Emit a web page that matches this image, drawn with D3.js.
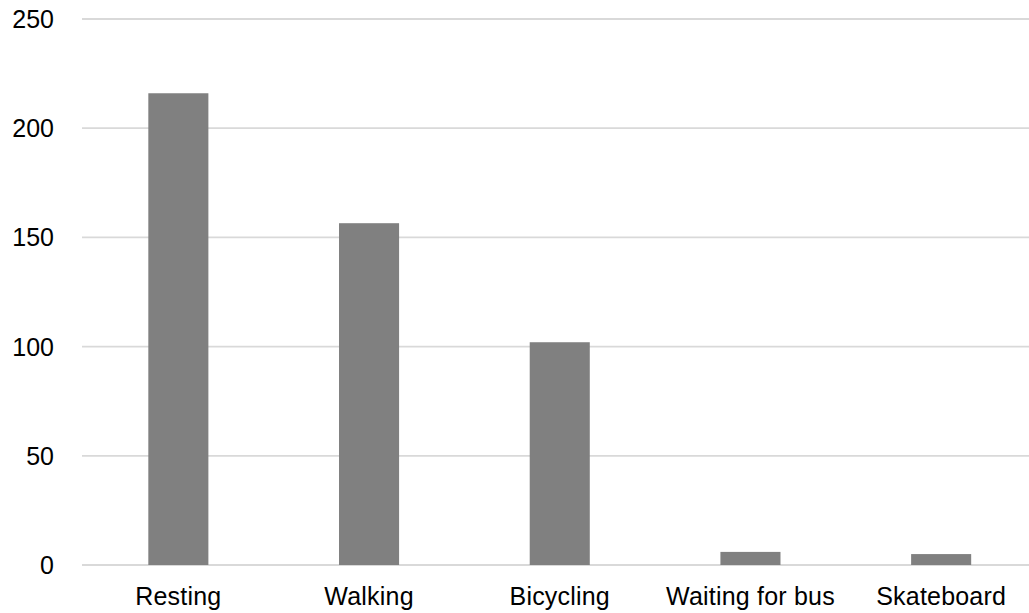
<!DOCTYPE html>
<html>
<head>
<meta charset="utf-8">
<script src="https://cdn.jsdelivr.net/npm/d3@7"></script>
<style>
  body { margin: 0; background: #fff; }
  svg { display: block; font-family: "Liberation Sans", Arial, sans-serif; }
</style>
</head>
<body>
<svg class="chart" width="1029" height="613"></svg>
<script>
const categories = ['Resting', 'Walking', 'Bicycling', 'Waiting for bus', 'Skateboard']
const values = [216, 156.5, 102, 6, 5]
const yTicks = [0, 50, 100, 150, 200, 250]

const svg = d3.select('.chart')
const margin = {top: 19, left: 83, bottom: 48}
const height = +svg.attr('height')

const xScale = d3.scaleBand()
  .domain(categories)
  .range([margin.left, margin.left + 953.5])
  .paddingInner(0.685)
  .paddingOuter(0.685 / 2)

const yScale = d3.scaleLinear()
  .domain([0, 250])
  .range([565, margin.top])

// gridlines
svg.append('g')
  .selectAll('line')
  .data(yTicks)
  .enter()
  .append('line')
  .attr('x1', margin.left - 1)
  .attr('x2', 1029)
  .attr('y1', d => yScale(d))
  .attr('y2', d => yScale(d))
  .attr('stroke', '#d9d9d9')
  .attr('stroke-width', 1.8)

// y labels
svg.append('g')
  .selectAll('text')
  .data(yTicks)
  .enter()
  .append('text')
  .attr('x', 54)
  .attr('y', d => yScale(d))
  .attr('dy', '0.36em')
  .attr('text-anchor', 'end')
  .attr('font-size', 25)
  .attr('fill', '#000')
  .text(d => d)

// bars
svg.append('g')
  .selectAll('rect')
  .data(values)
  .enter()
  .append('rect')
  .attr('x', (d, i) => xScale(categories[i]))
  .attr('y', d => yScale(d))
  .attr('width', xScale.bandwidth())
  .attr('height', d => yScale(0) - yScale(d))
  .attr('fill', '#808080')

// x labels
svg.append('g')
  .selectAll('text')
  .data(categories)
  .enter()
  .append('text')
  .attr('x', d => xScale(d) + xScale.bandwidth() / 2)
  .attr('y', 605)
  .attr('text-anchor', 'middle')
  .attr('font-size', 25)
  .attr('letter-spacing', 0.2)
  .attr('fill', '#000')
  .text(d => d)
</script>
</body>
</html>
